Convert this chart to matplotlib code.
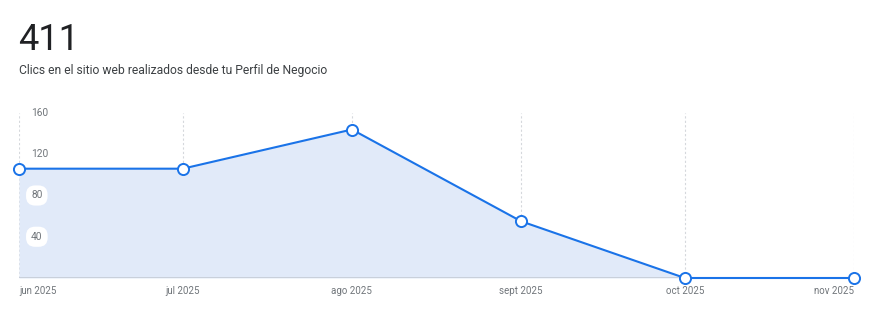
import matplotlib
matplotlib.use("Agg")
import matplotlib.pyplot as plt
import matplotlib.dates as mdates
import numpy as np
import datetime as dt

months = ["2025-06-01", "2025-07-01", "2025-08-01", "2025-09-01", "2025-10-01", "2025-11-01"]
month_labels = ["jun 2025", "jul 2025", "ago 2025", "sept 2025", "oct 2025", "nov 2025"]
clicks = [106, 106, 144, 55, 0, 0]
y_ticks = [40, 80, 120, 160]
total_label = "411"
subtitle = "Clics en el sitio web realizados desde tu Perfil de Negocio"

plt.rcParams['font.family'] = ['Roboto', 'DejaVu Sans']

dates = [dt.datetime.strptime(m, "%Y-%m-%d") for m in months]
xd = mdates.date2num(dates)

fig = plt.figure(figsize=(8.85, 3.16), dpi=100)
fig.patch.set_facecolor("white")
ax = fig.add_axes([19/885, 1-278/316, (854-19)/885, (278-113)/316])

blue = "#1a73e8"
ax.fill_between(xd, clicks, 0, color="#e1eaf9", zorder=1, linewidth=0)
ax.plot(xd, clicks, color=blue, linewidth=1.5, zorder=3, clip_on=False)
ax.plot(xd, clicks, linestyle="none", marker="o", markersize=8,
        markerfacecolor="white", markeredgecolor=blue, markeredgewidth=1.4,
        zorder=4, clip_on=False)

ax.set_xlim(xd[0], xd[-1])
ax.set_ylim(0, 160)

for x in xd:
    ax.axvline(x, color="#d5d8dc", linewidth=0.8, linestyle=(0, (2, 2)), zorder=0.5)
ax.axhline(0, color="#c5cbd6", linewidth=1.2, zorder=2)

for s in ax.spines.values():
    s.set_visible(False)
ax.set_yticks([])
ax.set_xticks(xd)
ax.set_xticklabels(month_labels, fontsize=7, color="#70757a")
ax.tick_params(axis="x", length=0, pad=6)
xtl = ax.get_xticklabels()
xtl[0].set_ha("left")
xtl[-1].set_ha("right")

for v in y_ticks:
    ax.text(0.0145, v, str(v), transform=ax.get_yaxis_transform(),
            fontsize=7.3, color="#70757a", ha="left", va="center", zorder=5,
            bbox=dict(boxstyle="round,pad=0.5,rounding_size=0.9", fc="white", ec="none"))

fig.text(18/885, 1-50/316, total_label, fontsize=26, color="#202124", ha="left", va="baseline")
fig.text(19/885, 1-74/316, subtitle, fontsize=8.75, color="#3c4043", ha="left", va="baseline")

fig.savefig("out.png", dpi=100, facecolor="white")
